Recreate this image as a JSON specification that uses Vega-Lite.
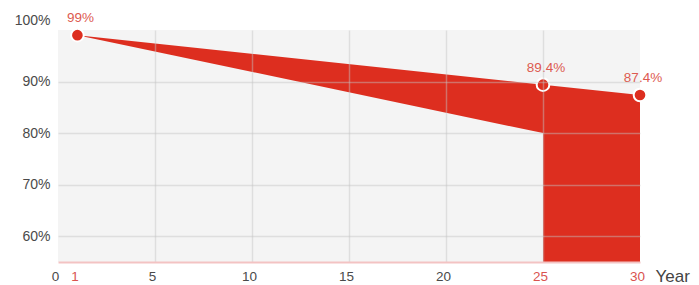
{
  "$schema": "https://vega.github.io/schema/vega-lite/v6.json",
  "width": 582,
  "height": 232,
  "autosize": "none",
  "padding": {"left": 58, "top": 30, "right": 59, "bottom": 23},
  "config": {
    "view": {"fill": "#f4f4f4", "stroke": null},
    "font": "Liberation Sans"
  },
  "datasets": {
    "band": [
      {"year": 1, "warranty": 99, "standard": 99},
      {"year": 25, "warranty": 89.4, "standard": 80}
    ],
    "tail": [
      {"year": 25, "warranty": 89.4},
      {"year": 30, "warranty": 87.4}
    ],
    "points": [
      {"year": 1, "warranty": 99, "label": "99%"},
      {"year": 25, "warranty": 89.4, "label": "89.4%"},
      {"year": 30, "warranty": 87.4, "label": "87.4%"}
    ]
  },
  "layer": [
    {
      "data": {"name": "band"},
      "mark": {"type": "area", "color": "#dd2e1f", "opacity": 1},
      "encoding": {
        "x": {
          "field": "year",
          "type": "quantitative",
          "scale": {"domain": [0, 30], "nice": false, "zero": false},
          "axis": {
            "values": [0, 1, 5, 10, 15, 20, 25, 30],
            "zindex": 1,
            "ticks": false,
            "grid": true,
            "gridColor": "rgba(195,195,195,0.45)",
            "gridWidth": 1.5,
            "gridOpacity": {"condition": {"test": "datum.value == 0 || datum.value == 1 || datum.value == 30", "value": 0}, "value": 1},
            "domain": true,
            "domainColor": "#f3c3c3",
            "domainWidth": 2,
            "labelPadding": 7,
            "labelFontSize": 13.5,
            "labelOffset": -3,
            "labelFlush": false,
            "labelColor": {"condition": {"test": "datum.value == 1 || datum.value == 25 || datum.value == 30", "value": "#d9534f"}, "value": "#4a4a4a"},
            "title": "Year",
            "titleX": 597,
            "titleY": 14,
            "titleAlign": "left",
            "titleBaseline": "middle",
            "titleFontSize": 17,
            "titleFontWeight": "normal",
            "titleColor": "#444444"
          }
        },
        "y": {
          "field": "warranty",
          "type": "quantitative",
          "scale": {"domain": [55, 100], "nice": false, "zero": false},
          "axis": {
            "values": [60, 70, 80, 90, 100],
            "zindex": 1,
            "labelExpr": "datum.value + '%'",
            "ticks": false,
            "domain": false,
            "grid": true,
            "gridColor": "rgba(195,195,195,0.45)",
            "gridWidth": 1.5,
            "gridOpacity": {"condition": {"test": "datum.value == 100", "value": 0}, "value": 1},
            "labelPadding": 8,
            "labelFontSize": 14,
            "labelColor": "#4a4a4a",
            "labelOffset": {"condition": {"test": "datum.value == 100", "value": -10}, "value": 0},
            "title": null
          }
        },
        "y2": {"field": "standard"}
      }
    },
    {
      "data": {"name": "tail"},
      "mark": {"type": "area", "color": "#dd2e1f", "opacity": 1},
      "encoding": {
        "x": {"field": "year", "type": "quantitative"},
        "y": {"field": "warranty", "type": "quantitative"},
        "y2": {"datum": 55}
      }
    },
    {
      "data": {"name": "points"},
      "mark": {"type": "point", "filled": true, "size": 160, "fill": "#dd2e1f", "stroke": "#ffffff", "strokeWidth": 2, "opacity": 1, "strokeOpacity": 1, "fillOpacity": 1},
      "encoding": {
        "x": {"field": "year", "type": "quantitative"},
        "y": {"field": "warranty", "type": "quantitative"}
      }
    },
    {
      "data": {"name": "points"},
      "mark": {"type": "text", "dy": -17, "dx": 3, "fontSize": 13.5, "color": "#dd5a50"},
      "encoding": {
        "x": {"field": "year", "type": "quantitative"},
        "y": {"field": "warranty", "type": "quantitative"},
        "text": {"field": "label"}
      }
    }
  ]
}
